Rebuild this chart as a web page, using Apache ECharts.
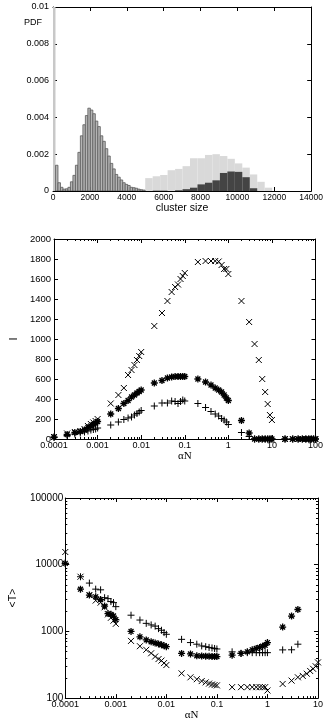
<!DOCTYPE html>
<html>
<head>
<meta charset="utf-8">
<script src="https://cdn.jsdelivr.net/npm/echarts@6/dist/echarts.min.js"></script>
<style>
  html, body { margin: 0; padding: 0; background: #fff; }
  #chart { width: 326px; height: 722px; }
</style>
</head>
<body>
<div id="chart"></div>
<script>
// ---- panel 1: cluster size PDF ----
const spikeBin = [0, 135];
const spikePdf = 0.0115;
const smallBinStart = 135;
const smallBinWidth = 135;
const smallPdf = [0.0014, 0.00045, 0.0002, 0.0001, 0.00012, 0.0002, 0.0005, 0.00085, 0.0014, 0.0021,
  0.003, 0.0036, 0.0041, 0.0045, 0.0044, 0.0042, 0.0038, 0.0035, 0.003, 0.0027,
  0.0023, 0.0019, 0.0015, 0.0012, 0.0009, 0.00075, 0.0006, 0.00045, 0.00036, 0.0003,
  0.0002, 0.00018, 0.00015, 0.0001, 0.00007, 0.00005];
const largeBinStart = 5000;
const largeBinWidth = 405;
const largeAllPdf = [0.0007, 0.0008, 0.00087, 0.00113, 0.0012, 0.00135, 0.00178, 0.00178, 0.00196, 0.002,
  0.0019, 0.00175, 0.0015, 0.00127, 0.0009, 0.0005, 0.00018];
const largeDarkPdf = [0, 0.00002, 0.00002, 0, 0.00004, 0.0001, 0.00018, 0.00036, 0.00045, 0.00058,
  0.00098, 0.00106, 0.00104, 0.00075, 0.00015, 0, 0];
const pdfRangeX = [0, 14000];

// ---- panel 2: I vs alpha N ----
const alphaI = [0.0001, 0.0002, 0.0003, 0.0004, 0.0005, 0.0006, 0.0007, 0.0008, 0.0009,
  0.001, 0.002, 0.003, 0.004, 0.005, 0.006, 0.007, 0.008, 0.009,
  0.01, 0.02, 0.03, 0.04, 0.05, 0.06, 0.07, 0.08, 0.09,
  0.1, 0.2, 0.3, 0.4, 0.5, 0.6, 0.7, 0.8, 0.9,
  1, 2, 3, 4, 5, 6, 7, 8, 9,
  10, 20, 30, 40, 50, 60, 70, 80, 90, 100];
const iCross = [20, 55, 70, 80, 100, 130, 150, 165, 180,
  200, 355, 440, 510, 640, 690, 740, 790, 830,
  870, 1130, 1260, 1380, 1470, 1520, 1545, 1600, 1630,
  1660, 1770, 1780, 1780, 1780, 1775, 1740, 1700, 1700,
  1650, 1380, 1170, 950, 790, 600, 470, 350, 240,
  190, 0, 0, 0, 0, 0, 0, 0, 0, 0];
const iStar = [20, 45, 65, 75, 90, 115, 130, 145, 160,
  175, 250, 305, 355, 385, 420, 440, 460, 475,
  490, 560, 585, 610, 620, 625, 625, 625, 625,
  625, 600, 570, 540, 510, 490, 470, 440, 410,
  385, 185, 60, 0, 0, 0, 0, 0, 0,
  0, 0, 0, 0, 0, 0, 0, 0, 0, 0];
const iPlus = [15, 35, 50, 60, 70, 80, 90, 95, 100,
  110, 140, 170, 195, 210, 220, 240, 255, 270,
  285, 330, 360, 360, 380, 375, 355, 375, 390,
  380, 355, 315, 275, 250, 230, 205, 190, 170,
  145, 65, 25, 0, 0, 0, 0, 0, 0,
  0, 0, 0, 0, 0, 0, 0, 0, 0, 0];

// ---- panel 3: <T> vs alpha N ----
const alphaT = [0.0001, 0.0002, 0.0003, 0.0004, 0.0005, 0.0006, 0.0007, 0.0008, 0.0009,
  0.001, 0.002, 0.003, 0.004, 0.005, 0.006, 0.007, 0.008, 0.009,
  0.01, 0.02, 0.03, 0.04, 0.05, 0.06, 0.07, 0.08, 0.09,
  0.1, 0.2, 0.3, 0.4, 0.5, 0.6, 0.7, 0.8, 0.9,
  1, 2, 3, 4, 5, 6, 7, 8, 9, 10];
const tPlus = [10500, 6600, 5300, 4300, 4200, 3200, 3100, 2800, 2700,
  2350, 1750, 1480, 1320, 1250, 1200, 1100, 1040, 960,
  905, 760, 680, 643, 606, 590, 575, 565, 555,
  545, 494, 470, 480, 480, 480, 480, 480, 480,
  480, 528, 530, 643, null, null, null, null, null, null];
const tStar = [10500, 4300, 3500, 3300, 3000, 2400, 1850, 1800, 1700,
  1500, 1000, 830, 745, 700, 670, 650, 630, 610,
  590, 468, 460, 430, 428, 425, 423, 422, 420,
  420, 440, 468, 494, 530, 555, 575, 600, 620,
  680, 1160, 1700, 2130, null, null, null, null, null, null];
const tCross = [15500, 6600, 3500, 2900, 2700, 2300, 1800, 1600, 1450,
  1300, 720, 600, 530, 470, 420, 385, 365, 335,
  313, 235, 205, 192, 180, 172, 165, 160, 157,
  155, 146, 146, 146, 146, 146, 146, 146, 146,
  130, 163, 183, 205, 215, 232, 255, 275, 300, 343];

const font = 'Liberation Sans, Arial, Helvetica, sans-serif';
const serif = 'Liberation Serif, Times New Roman, serif';
const plusPath = 'path://M5,0L5,10M0,5L10,5';
const crossPath = 'path://M0,0L10,10M10,0L0,10';
const starPath = 'path://M5,0L5,10M0,5L10,5M1.5,1.5L8.5,8.5M8.5,1.5L1.5,8.5';

function pairs(xs, ys) {
  return xs.map((x, i) => [x, ys[i]]).filter(p => p[1] != null);
}
function bins(start, width, values) {
  return values.map((v, i) => [start + i * width, start + (i + 1) * width, v]);
}
function numLabel(v) { return String(+(+v).toPrecision(6)); }

function axis(extra, labels) {
  return Object.assign({
    axisLine: { show: true, onZero: false, lineStyle: { color: '#000', width: 1 } },
    axisTick: { show: true, inside: true, length: 4, lineStyle: { color: '#000' } },
    splitLine: { show: false },
    axisLabel: { show: labels, fontFamily: font, fontSize: 9, color: '#000', margin: 2, formatter: numLabel }
  }, extra);
}
function logAxis(extra, labels) {
  const a = axis(extra, labels);
  a.minorTick = { show: true, splitNumber: 9, length: 2, lineStyle: { color: '#000' } };
  return a;
}

function histSeries(name, data, fill, stroke, z) {
  return {
    name, type: 'custom', xAxisIndex: 0, yAxisIndex: 0, clip: true, z,
    encode: { x: [0, 1], y: 2 },
    data,
    renderItem: function (params, api) {
      const p0 = api.coord([api.value(0), api.value(2)]);
      const p1 = api.coord([api.value(1), 0]);
      return {
        type: 'rect',
        shape: { x: p0[0], y: p0[1], width: p1[0] - p0[0], height: p1[1] - p0[1] },
        style: { fill, stroke, lineWidth: stroke ? 0.8 : 0 }
      };
    }
  };
}

function scatter(name, data, symbol, size, xi, yi, width) {
  return {
    name, type: 'scatter', xAxisIndex: xi, yAxisIndex: yi, data,
    symbol, symbolSize: size,
    itemStyle: { color: 'transparent', borderColor: '#000', borderWidth: width, opacity: 1 },
    silent: true
  };
}

const option = {
  animation: false,
  backgroundColor: '#fff',
  textStyle: { fontFamily: font },
  title: [{
    text: 'PDF', left: 24, top: 18, padding: 0,
    textStyle: { fontSize: 9, fontWeight: 'normal', fontFamily: font, color: '#000' }
  }],
  grid: [
    { left: 53, top: 7, width: 259, height: 184 },
    { left: 41, top: 239, width: 284, height: 200 },
    { left: 52, top: 498, width: 272, height: 201 }
  ],
  xAxis: [
    axis({ gridIndex: 0, type: 'value', position: 'bottom', min: pdfRangeX[0], max: pdfRangeX[1], interval: 2000,
      name: 'cluster size', nameLocation: 'middle', nameGap: 10,
      nameTextStyle: { fontFamily: font, fontSize: 10.5, color: '#000' } }, true),
    axis({ gridIndex: 0, type: 'value', position: 'top', min: pdfRangeX[0], max: pdfRangeX[1], interval: 2000 }, false),
    logAxis({ gridIndex: 1, type: 'log', position: 'bottom', min: 0.0001, max: 100,
      name: 'αN', nameLocation: 'middle', nameGap: 12,
      nameTextStyle: { fontFamily: serif, fontSize: 11, color: '#000' } }, true),
    logAxis({ gridIndex: 1, type: 'log', position: 'top', min: 0.0001, max: 100 }, false),
    logAxis({ gridIndex: 2, type: 'log', position: 'bottom', min: 0.0001, max: 10,
      name: 'αN', nameLocation: 'middle', nameGap: 11,
      nameTextStyle: { fontFamily: serif, fontSize: 11, color: '#000' } }, true),
    logAxis({ gridIndex: 2, type: 'log', position: 'top', min: 0.0001, max: 10 }, false)
  ],
  yAxis: [
    axis({ gridIndex: 0, type: 'value', position: 'left', min: 0, max: 0.01, interval: 0.002 }, true),
    axis({ gridIndex: 0, type: 'value', position: 'right', min: 0, max: 0.01, interval: 0.002 }, false),
    axis({ gridIndex: 1, type: 'value', position: 'left', min: 0, max: 2000, interval: 200,
      name: 'I', nameLocation: 'middle', nameGap: 27, nameRotate: 90,
      nameTextStyle: { fontFamily: font, fontSize: 11, color: '#000' } }, true),
    axis({ gridIndex: 1, type: 'value', position: 'right', min: 0, max: 2000, interval: 200 }, false),
    logAxis({ gridIndex: 2, type: 'log', position: 'left', min: 100, max: 100000,
      name: '<T>', nameLocation: 'middle', nameGap: 30, nameRotate: 90,
      nameTextStyle: { fontFamily: font, fontSize: 10.5, color: '#000' } }, true),
    logAxis({ gridIndex: 2, type: 'log', position: 'right', min: 100, max: 100000 }, false)
  ],
  series: [
    histSeries('spike', [[spikeBin[0], spikeBin[1], spikePdf]], '#c8c8c8', null, 2),
    histSeries('small', bins(smallBinStart, smallBinWidth, smallPdf), '#b4b4b4', '#5a5a5a', 3),
    histSeries('largeAll', bins(largeBinStart, largeBinWidth, largeAllPdf), '#d9d9d9', null, 2),
    histSeries('largeDark', bins(largeBinStart, largeBinWidth, largeDarkPdf), '#444444', null, 3),

    scatter('I plus', pairs(alphaI, iPlus), plusPath, 7, 2, 2, 1),
    scatter('I star', pairs(alphaI, iStar), starPath, 7, 2, 2, 1.3),
    scatter('I cross', pairs(alphaI, iCross), crossPath, 6, 2, 2, 1),

    scatter('T plus', pairs(alphaT, tPlus), plusPath, 7, 4, 4, 1),
    scatter('T star', pairs(alphaT, tStar), starPath, 7, 4, 4, 1.3),
    scatter('T cross', pairs(alphaT, tCross), crossPath, 6, 4, 4, 1)
  ]
};

option.yAxis[4].axisLabel.fontSize = 10;
option.yAxis[0].axisLabel.margin = 4;
option.yAxis[2].axisLabel.margin = 3;
option.yAxis[2].axisLabel.fontSize = 9.5;
option.xAxis[0].axisLabel.fontSize = 8.5;

const chart = echarts.init(document.getElementById('chart'));
chart.setOption(option);
</script>
</body>
</html>
